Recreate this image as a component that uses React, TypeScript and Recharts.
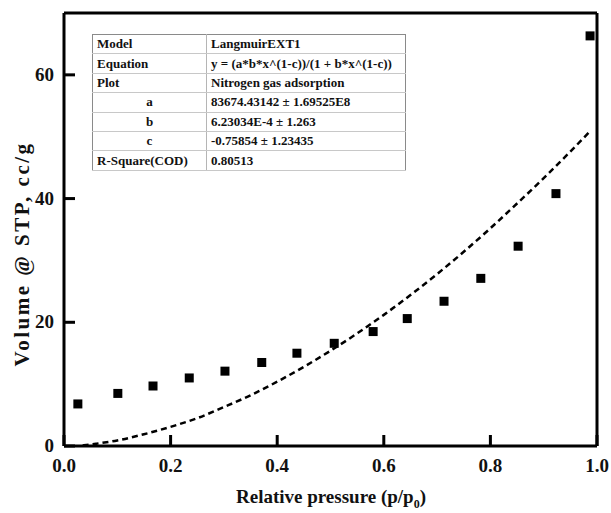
import React from "react"
import {
  ComposedChart,
  Scatter,
  Line,
  XAxis,
  YAxis,
  ReferenceLine,
} from "recharts"

// measured isotherm points
const pressure = [0.026, 0.101, 0.167, 0.235, 0.302, 0.371, 0.437, 0.507, 0.58, 0.644, 0.713, 0.782, 0.852, 0.923, 0.987]
const volume = [6.8, 8.5, 9.7, 11.0, 12.1, 13.5, 15.0, 16.6, 18.5, 20.6, 23.4, 27.1, 32.3, 40.8, 66.3]

// fitted curve
const fitX = [0.035, 0.06, 0.1, 0.15, 0.2, 0.25, 0.3, 0.35, 0.4, 0.45, 0.5, 0.55, 0.6, 0.65, 0.7, 0.75, 0.8, 0.85, 0.9, 0.95, 0.985]
const fitY = [0.1, 0.37, 0.9, 1.9, 3.1, 4.5, 6.3, 8.2, 10.4, 12.8, 15.4, 18.2, 21.2, 24.4, 27.8, 31.4, 35.2, 39.2, 43.3, 47.6, 50.7]

const xTicks = [0, 0.2, 0.4, 0.6, 0.8, 1.0]
const yTicks = [0, 20, 40, 60]

const tableRows: [string, string, boolean][] = [
  ["Model", "LangmuirEXT1", false],
  ["Equation", "y = (a*b*x^(1-c))/(1 + b*x^(1-c))", false],
  ["Plot", "Nitrogen gas adsorption", false],
  ["a", "83674.43142 ± 1.69525E8", true],
  ["b", "6.23034E-4 ± 1.263", true],
  ["c", "-0.75854 ± 1.23435", true],
  ["R-Square(COD)", "0.80513", false],
]

const points = pressure.map((x, i) => ({ x, y: volume[i] }))
const fit = fitX.map((x, i) => ({ x, y: fitY[i] }))

const FONT = "'Liberation Serif', 'Times New Roman', serif"
const axisLine = { stroke: "#000", strokeWidth: 3 }
const TICK_LEN = 11
const X_GAP = 12
const Y_GAP = 10

function SquareMark(props: any) {
  const { cx, cy } = props
  if (cx == null || cy == null) return null
  return <rect x={cx - 4.5} y={cy - 4.5} width={9} height={9} fill="#000" />
}

// inward tick + label for the bottom axis
function XTick(props: any) {
  const { x, y, payload } = props
  const base = y - X_GAP
  return (
    <g>
      <rect x={x - 1.5} y={base - TICK_LEN} width={3} height={TICK_LEN} fill="#000" />
      <text x={x} y={y} dy={14} textAnchor="middle" fontFamily={FONT} fontWeight={700} fontSize={19} fill="#111">
        {Number(payload.value).toFixed(1)}
      </text>
    </g>
  )
}

// inward tick + label for the left axis
function YTick(props: any) {
  const { x, y, payload } = props
  const base = x + Y_GAP
  return (
    <g>
      <rect x={base} y={y - 1.5} width={TICK_LEN} height={3} fill="#000" />
      <text x={x} y={y} dy={6} textAnchor="end" fontFamily={FONT} fontWeight={700} fontSize={19} fill="#111">
        {payload.value}
      </text>
    </g>
  )
}

function XTitle() {
  return (
    <text x={331} y={503} textAnchor="middle" fontFamily={FONT} fontWeight={700} fontSize={19} fill="#111">
      Relative pressure (p/p
      <tspan fontSize={12} dy={5}>0</tspan>
      <tspan dy={-5}>)</tspan>
    </text>
  )
}

function YTitle() {
  return (
    <text
      x={0}
      y={0}
      transform="translate(29, 254) rotate(-90)"
      textAnchor="middle"
      fontFamily={FONT}
      fontWeight={700}
      fontSize={21}
      letterSpacing={2.5}
      fill="#111"
    >
      Volume @ STP, cc/g
    </text>
  )
}

function FitTable() {
  return (
    <table
      style={{
        position: "absolute",
        left: 92,
        top: 34,
        width: 314,
        borderCollapse: "collapse",
        border: "1px solid #8a8a8a",
        fontFamily: FONT,
        fontWeight: 700,
        fontSize: 13,
        color: "#111",
        background: "#fff",
      }}
    >
      <tbody>
        {tableRows.map(([k, v, center]) => (
          <tr key={k} style={{ height: 19.4 }}>
            <td
              style={{
                width: 114,
                padding: "0 4px",
                borderRight: "1px solid #b5b5b5",
                borderBottom: "1px solid #c8c8c8",
                textAlign: center ? "center" : "left",
                boxSizing: "border-box",
                lineHeight: "18px",
              }}
            >
              {k}
            </td>
            <td style={{ padding: "0 4px", borderBottom: "1px solid #c8c8c8", lineHeight: "18px" }}>{v}</td>
          </tr>
        ))}
      </tbody>
    </table>
  )
}

export default function App() {
  return (
    <div style={{ position: "absolute", left: 0, top: 0, width: 611, height: 513, background: "#fff" }}>
      <ComposedChart width={611} height={513} margin={{ top: 13, right: 14, bottom: 0, left: 0 }}>
        <XAxis
          type="number"
          dataKey="x"
          domain={[0, 1]}
          ticks={xTicks}
          height={67}
          axisLine={axisLine}
          tickLine={false}
          tickSize={0}
          tickMargin={X_GAP}
          tick={<XTick />}
          label={{ content: () => <XTitle /> }}
        />
        <YAxis
          type="number"
          dataKey="y"
          domain={[0, 70]}
          ticks={yTicks}
          width={64}
          axisLine={axisLine}
          tickLine={false}
          tickSize={0}
          tickMargin={Y_GAP}
          tick={<YTick />}
          label={{ content: () => <YTitle /> }}
        />
        <ReferenceLine y={70} stroke="#000" strokeWidth={3} />
        <ReferenceLine x={1} stroke="#000" strokeWidth={3} />
        <Line
          data={fit}
          dataKey="y"
          type="monotone"
          stroke="#000"
          strokeWidth={2.5}
          strokeDasharray="6 4"
          dot={false}
          isAnimationActive={false}
        />
        <Scatter data={points} dataKey="y" shape={<SquareMark />} isAnimationActive={false} />
      </ComposedChart>
      <FitTable />
    </div>
  )
}
